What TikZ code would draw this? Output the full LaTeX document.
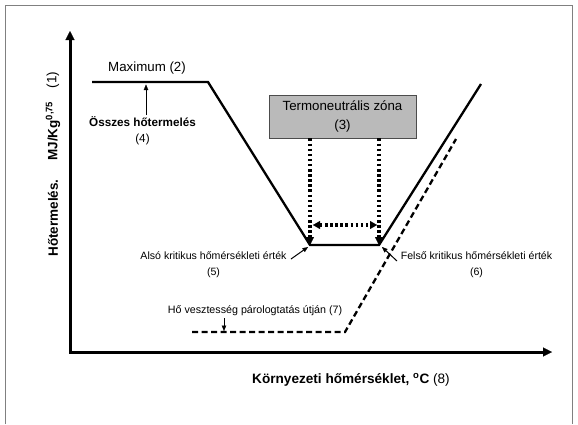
\documentclass[tikz,border=0pt]{standalone}
\usepackage{fontspec}
\setmainfont{Liberation Sans}
\usetikzlibrary{arrows.meta}
\begin{document}
\begin{tikzpicture}[x=1pt,y=-1pt,
  axis/.style={line width=3pt,{Triangle[length=9pt,width=9pt,line width=0.1pt]}-{Triangle[length=9pt,width=9pt,line width=0.1pt]}},
  curve/.style={line width=2.3pt},
  dashcurve/.style={line width=2.3pt,dash pattern=on 6pt off 3.5pt},
  dotline/.style={line width=3.2pt,dash pattern=on 2.5pt off 2.6pt},
  dottip/.style={-{Triangle[length=8pt,width=8pt,line width=0.1pt]}},
  dotboth/.style={{Triangle[length=7pt,width=8pt,line width=0.1pt]}-{Triangle[length=7pt,width=8pt,line width=0.1pt]}},
  thinarrow/.style={line width=1pt,-{Triangle[length=5.5pt,width=4.5pt,line width=0.1pt]}},
  zone/.style={draw=black!70,line width=0.9pt,fill=black!27,minimum width=147pt,minimum height=43pt,inner sep=0pt,align=center,font=\fontsize{13.3}{19}\selectfont},
  lblsmall/.style={inner sep=0pt,align=center,font=\fontsize{10.6}{15.5}\selectfont},
  lblbig/.style={inner sep=0pt,align=center,font=\fontsize{13.3}{16}\selectfont},
  ylbl/.style={inner sep=0pt,rotate=90,font=\fontsize{13.5}{16}\selectfont}
]
\useasboundingbox (0,0) rectangle (578,424);
% outer frame
\draw[black!50,line width=1pt] (5.5,424) -- (5.5,5.5) -- (572,5.5) -- (572,424);

% axes
\coordinate (ytop) at (70,31);
\coordinate (o) at (70,352);
\coordinate (xend) at (552,352);
\draw[axis] (ytop) -- (o) -- (xend);

% heat production curve
\coordinate (m0) at (92,82);
\coordinate (m1) at (208,82);
\coordinate (b0) at (310,245);
\coordinate (b1) at (379,245);
\coordinate (r1) at (481,84);
\draw[curve] (m0) -- (m1) -- (b0) -- (b1) -- (r1);

% evaporative heat loss
\coordinate (d0) at (192,332);
\coordinate (d1) at (345,332);
\coordinate (d2) at (456,139);
\draw[dashcurve] (d0) -- (d1) -- (d2);

% thermoneutral zone
\node[zone] (tz) at (342.5,116.5) {Termoneutrális zóna\\(3)};
\draw[dotline,dottip] (tz.south -| b0) -- (b0);
\draw[dotline,dottip] (tz.south -| b1) -- (b1);
\coordinate (h0) at (313,225);
\coordinate (h1) at (377,225);
\draw[dotline,dotboth] (h0) -- (h1);

% labels
\node[lblbig] (max) at (147,68) {Maximum (2)};
\node[inner sep=0pt,align=center,font=\fontsize{11.7}{16}\selectfont] (oss) at (142.5,131) {\bfseries Összes hőtermelés\\(4)};
\coordinate (a4s) at (146,115);
\coordinate (a4t) at (146,84.5);
\draw[thinarrow] (a4s) -- (a4t);

\node[lblsmall] (also) at (213.5,264.5) {Alsó kritikus hőmérsékleti érték\\(5)};
\coordinate (a5s) at (291,259);
\coordinate (a5t) at (308,247);
\draw[thinarrow] (a5s) -- (a5t);

\node[lblsmall] (felso) at (476.5,264.8) {Felső kritikus hőmérsékleti érték\\(6)};
\coordinate (a6s) at (397,261);
\coordinate (a6t) at (382,247);
\draw[thinarrow] (a6s) -- (a6t);

\node[inner sep=0pt,font=\fontsize{10.7}{13}\selectfont] (hov) at (255,310.6) {Hő vesztesség párologtatás útján (7)};
\coordinate (a7s) at (224,318);
\coordinate (a7t) at (224,331);
\draw[thinarrow] (a7s) -- (a7t);

\node[inner sep=0pt,font=\fontsize{13.6}{16}\selectfont] (xl) at (351,380) {\bfseries Környezeti hőmérséklet, \textsuperscript{o}C\mdseries{} (8)};

\node[ylbl] (yl1) at (53,218) {\bfseries Hőtermelés.};
\node[ylbl] (yl2) at (53,131) {\bfseries MJ/Kg\textsuperscript{0,75}};
\node[ylbl] (yl3) at (53,80) {(1)};
\end{tikzpicture}
\end{document}
